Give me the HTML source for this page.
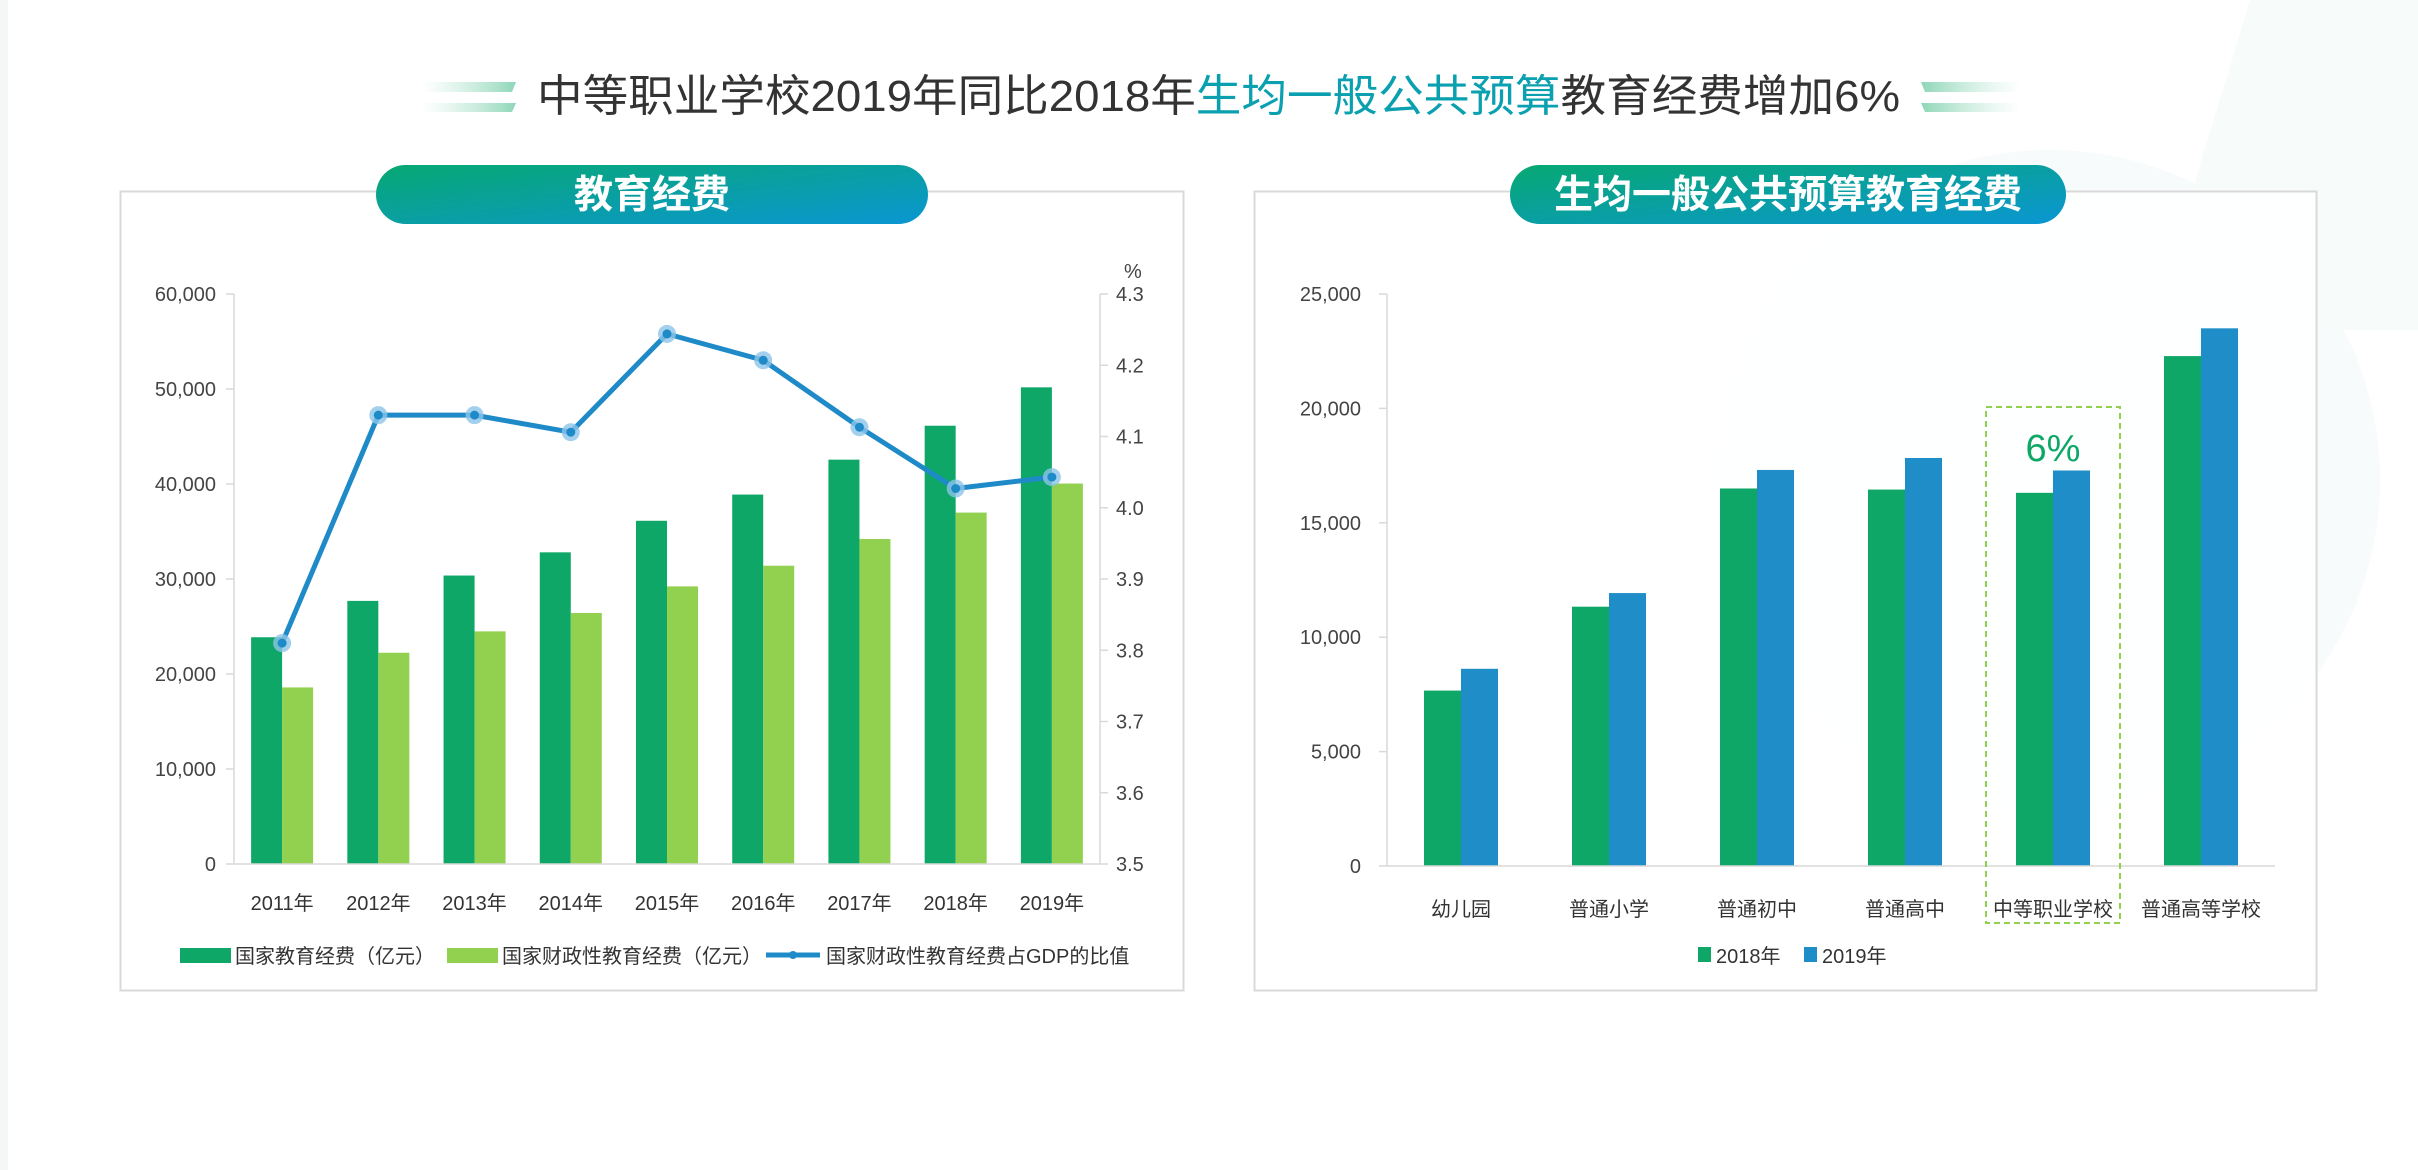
<!DOCTYPE html>
<html><head><meta charset="utf-8"><style>
html,body{margin:0;padding:0;background:#fff;}
svg{display:block;font-family:"Liberation Sans","Noto Sans CJK SC",sans-serif;}
</style></head><body>
<svg id="svg" width="2418" height="1170" viewBox="0 0 2418 1170" xmlns="http://www.w3.org/2000/svg">
<defs>
<linearGradient id="badge" x1="0" y1="0" x2="1" y2="1"><stop offset="0" stop-color="#08a873"/><stop offset="1" stop-color="#0a96d2"/></linearGradient>
<linearGradient id="decoL" x1="0" x2="1"><stop offset="0" stop-color="#bfe9d8" stop-opacity="0"/><stop offset="1" stop-color="#8fd6b8"/></linearGradient>
<linearGradient id="decoR" x1="1" x2="0"><stop offset="0" stop-color="#bfe9d8" stop-opacity="0"/><stop offset="1" stop-color="#8fd6b8"/></linearGradient>
</defs>
<g>
<rect x="0" y="0" width="8" height="1170" fill="#f5f6f6"/>
<circle cx="2050" cy="480" r="330" fill="#f8fbfb"/>
<polygon points="2250,0 2418,0 2418,330 2150,330" fill="#f7fbfa"/>
</g>
<g>
<polygon points="421,82 516,82 512,92 425,92" fill="url(#decoL)"/>
<polygon points="421,103 516,103 512,112 425,112" fill="url(#decoL)"/>
<polygon points="1921,82 2021,82 2017,92 1925,92" fill="url(#decoR)"/>
<polygon points="1921,103 2021,103 2017,112 1925,112" fill="url(#decoR)"/>
<text x="537" y="111" font-size="44" fill="#333" textLength="1363" lengthAdjust="spacingAndGlyphs">中等职业学校2019年同比2018年<tspan fill="#0aa0b0">生均一般公共预算</tspan>教育经费增加6%</text>
</g>
<g>
<rect x="120.5" y="191.5" width="1063" height="799" fill="#fff" stroke="#d9d9d9" stroke-width="2"/>
<rect x="376" y="165" width="552" height="59" rx="29.5" fill="url(#badge)"/>
<text x="652" y="208" font-size="39" font-weight="bold" fill="#fff" text-anchor="middle">教育经费</text>
<g id="leftChart"></g>
</g>
<g>
<rect x="1254.5" y="191.5" width="1062" height="799" fill="#fff" fill-opacity="0.85" stroke="#d9d9d9" stroke-width="2"/>
<rect x="1510" y="165" width="556" height="59" rx="29.5" fill="url(#badge)"/>
<text x="1788" y="208" font-size="39" font-weight="bold" fill="#fff" text-anchor="middle">生均一般公共预算教育经费</text>
<g id="rightChart"></g>
</g>
</svg>
<script>
const years = ['2011年','2012年','2013年','2014年','2015年','2016年','2017年','2018年','2019年'];
const totalEdu = [23869,27696,30365,32806,36129,38888,42562,46135,50175];
const fiscalEdu = [18587,22236,24488,26421,29221,31396,34208,36990,40047];
const gdpRatio = [3.81,4.13,4.13,4.106,4.244,4.207,4.113,4.027,4.043];
const leftTicks = ['0','10,000','20,000','30,000','40,000','50,000','60,000'];
const rightTicks = ['3.5','3.6','3.7','3.8','3.9','4.0','4.1','4.2','4.3'];

const levels = ['幼儿园','普通小学','普通初中','普通高中','中等职业学校','普通高等学校'];
const per2018 = [7667,11333,16500,16452,16310,22286];
const per2019 = [8619,11929,17310,17833,17286,23500];
const perTicks = ['0','5,000','10,000','15,000','20,000','25,000'];

const NS='http://www.w3.org/2000/svg';
function mk(tag,attrs,parent,text){const e=document.createElementNS(NS,tag);for(const k in attrs)e.setAttribute(k,attrs[k]);if(text!==undefined)e.textContent=text;parent.appendChild(e);return e;}

// LEFT CHART
(function(){
const g=document.getElementById('leftChart');
const x0=234,x1=1100,y0=864,yTop=294;
const yL=v=>y0-(v/60000)*(y0-yTop);
const yR=v=>y0-((v-3.5)/0.8)*(y0-yTop);
const band=(x1-x0)/years.length, bw=31;
const cx=i=>x0+band*(i+0.5);
leftTicks.forEach((t,i)=>{const v=i*10000;const y=yL(v);
 const tx=mk('text',{x:216,y:y+7,'font-size':20,fill:'#444','text-anchor':'end'},g,t);
 
 
 mk('line',{x1:x0-8,x2:x0,y1:y,y2:y,stroke:'#d9d9d9','stroke-width':1.5},g);});
rightTicks.forEach((t,i)=>{const y=yR(3.5+i*0.1);
 const tx=mk('text',{x:1116,y:y+7,'font-size':20,fill:'#444'},g,t);
 
 
 mk('line',{x1:x1,x2:x1+8,y1:y,y2:y,stroke:'#d9d9d9','stroke-width':1.5},g);});
const pct=mk('text',{x:1124,y:278,'font-size':20,fill:'#444'},g,'%');


mk('line',{x1:x0,x2:x0,y1:yTop,y2:y0,stroke:'#d9d9d9','stroke-width':1.5},g);
mk('line',{x1:x1,x2:x1,y1:yTop,y2:y0,stroke:'#d9d9d9','stroke-width':1.5},g);
years.forEach((yr,i)=>{
 const b1=mk('rect',{x:cx(i)-bw,y:yL(totalEdu[i]),width:bw,height:y0-yL(totalEdu[i]),fill:'#0ea767'},g);
 
 
 const b2=mk('rect',{x:cx(i),y:yL(fiscalEdu[i]),width:bw,height:y0-yL(fiscalEdu[i]),fill:'#92d050'},g);
 
 
 const t=mk('text',{x:cx(i),y:910,'font-size':20,fill:'#333','text-anchor':'middle'},g,yr);
 
 
});
mk('line',{x1:x0,x2:x1,y1:y0,y2:y0,stroke:'#d9d9d9','stroke-width':1.5},g);
const pts=gdpRatio.map((v,i)=>(cx(i))+','+yR(v)).join(' ');
const ln=mk('polyline',{points:pts,fill:'none',stroke:'#1f8ac8','stroke-width':5,'stroke-linejoin':'round'},g);


gdpRatio.forEach((v,i)=>{
 mk('circle',{cx:cx(i),cy:yR(v),r:9,fill:'#8cc4e8','fill-opacity':0.8},g);
 const p=mk('circle',{cx:cx(i),cy:yR(v),r:4.5,fill:'#1f8ac8'},g);
 
 
});
const l1=mk('rect',{x:180,y:948,width:51,height:15,fill:'#0ea767'},g);


const lt1=mk('text',{x:235,y:963,'font-size':20,fill:'#333'},g,'国家教育经费（亿元）');


const l2=mk('rect',{x:447,y:948,width:51,height:15,fill:'#92d050'},g);


const lt2=mk('text',{x:502,y:963,'font-size':20,fill:'#333'},g,'国家财政性教育经费（亿元）');


const l3=mk('line',{x1:766,x2:820,y1:955,y2:955,stroke:'#1f8ac8','stroke-width':5},g);


mk('circle',{cx:793,cy:955,r:4,fill:'#1f8ac8'},g);
const lt3=mk('text',{x:826,y:963,'font-size':20,fill:'#333'},g,'国家财政性教育经费占GDP的比值');


})();

// RIGHT CHART
(function(){
const g=document.getElementById('rightChart');
const x0=1387,x1=2275,y0=866,yTop=294;
const y=v=>y0-(v/25000)*(y0-yTop);
const band=(x1-x0)/levels.length,bw=37;
const cx=i=>x0+band*(i+0.5);
perTicks.forEach((t,i)=>{const yy=y(i*5000);
 const tx=mk('text',{x:1361,y:yy+7,'font-size':20,fill:'#444','text-anchor':'end'},g,t);
 
 
 mk('line',{x1:x0-8,x2:x0,y1:yy,y2:yy,stroke:'#d9d9d9','stroke-width':1.5},g);});
mk('line',{x1:x0,x2:x0,y1:yTop,y2:y0,stroke:'#d9d9d9','stroke-width':1.5},g);
levels.forEach((lv,i)=>{
 const b1=mk('rect',{x:cx(i)-bw,y:y(per2018[i]),width:bw,height:y0-y(per2018[i]),fill:'#0ea767'},g);
 
 
 const b2=mk('rect',{x:cx(i),y:y(per2019[i]),width:bw,height:y0-y(per2019[i]),fill:'#1f8dc8'},g);
 
 
 const t=mk('text',{x:cx(i),y:916,'font-size':20,fill:'#333','text-anchor':'middle'},g,lv);
 
 
});
mk('line',{x1:x0,x2:x1,y1:y0,y2:y0,stroke:'#d9d9d9','stroke-width':1.5},g);
const hi=levels.indexOf('中等职业学校');
const box=mk('rect',{x:cx(hi)-67,y:407,width:134,height:516,fill:'none',stroke:'#92d050','stroke-width':2,'stroke-dasharray':'6,4'},g);


const pc=mk('text',{x:cx(hi),y:461,'font-size':38,fill:'#0ea767','text-anchor':'middle'},g,'6%');


const s1=mk('rect',{x:1698,y:947,width:13,height:15,fill:'#0ea767'},g);


const t1=mk('text',{x:1716,y:963,'font-size':20,fill:'#333'},g,'2018年');


const s2=mk('rect',{x:1804,y:947,width:13,height:15,fill:'#1f8dc8'},g);


const t2=mk('text',{x:1822,y:963,'font-size':20,fill:'#333'},g,'2019年');


})();
</script>
</body></html>
